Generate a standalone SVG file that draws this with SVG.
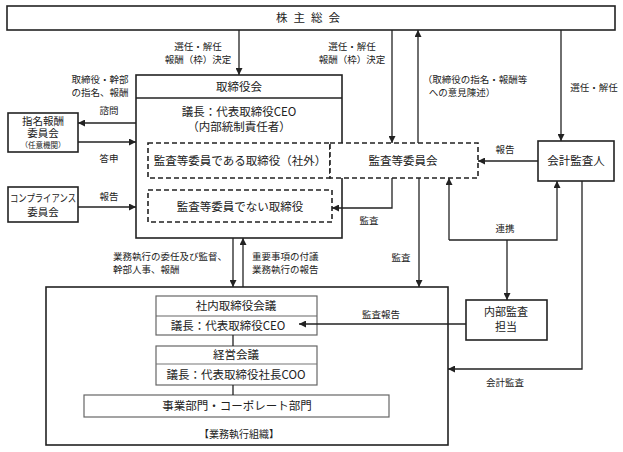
<svg xmlns="http://www.w3.org/2000/svg" width="623" height="452" viewBox="0 0 623 452">
<style>
text{font-family:"Noto Sans CJK JP","Noto Sans",sans-serif;fill:#222;text-anchor:middle}
text.st{text-anchor:start}
.t{font-size:11.5px}
.s{font-size:9.5px}
.xs{font-size:7.5px}
.box{fill:#fff;stroke:#222;stroke-width:1.6}
.dash{fill:#fff;stroke:#222;stroke-width:1.6;stroke-dasharray:5,3}
.gbox{fill:#fff;stroke:#666;stroke-width:1.2}
.con{fill:none;stroke:#222;stroke-width:1.3}
</style>
<defs>
<marker id="ah" viewBox="0 0 10 10" refX="10" refY="5" markerWidth="7" markerHeight="7" markerUnits="userSpaceOnUse" orient="auto">
<path d="M0,0 L10,5 L0,10 z" fill="#222"/>
</marker>
</defs>

<g id="shareholders">
<rect class="box" x="7" y="6" width="608" height="24"/>
<text class="t" x="311" y="22" letter-spacing="6">株主総会</text>
</g>

<g id="board">
<rect class="box" x="136" y="75" width="206" height="163"/>
<line x1="136" y1="98" x2="342" y2="98" stroke="#222" stroke-width="1.3"/>
<text class="t" x="239" y="91">取締役会</text>
<text class="t" x="239" y="116">議長：代表取締役CEO</text>
<text class="t" x="239" y="131">（内部統制責任者）</text>
</g>

<g id="outside-directors">
<rect class="dash" x="148" y="143" width="182" height="35"/>
<text class="t" x="240" y="165">監査等委員である取締役（社外）</text>
</g>

<g id="audit-committee">
<rect class="dash" x="330" y="143" width="148" height="35"/>
<text class="t" x="403" y="165">監査等委員会</text>
</g>

<g id="non-audit-directors">
<rect class="dash" x="148" y="190" width="184" height="32"/>
<text class="t" x="240" y="211">監査等委員でない取締役</text>
</g>

<g id="nomination">
<rect class="box" x="8" y="113" width="70" height="39"/>
<text x="43" y="125" font-size="10.5">指名報酬</text>
<text x="43" y="137" font-size="10.5">委員会</text>
<text class="xs" x="43" y="148">（任意機関）</text>
</g>

<g id="compliance">
<rect class="box" x="8" y="187" width="70" height="35"/>
<text x="43" y="202" font-size="10.5" textLength="66" lengthAdjust="spacingAndGlyphs">コンプライアンス</text>
<text x="43" y="216" font-size="10.5">委員会</text>
</g>

<g id="auditor">
<rect class="box" x="538" y="141" width="76" height="40" stroke-width="2"/>
<text class="t" x="576" y="165">会計監査人</text>
</g>

<g id="internal-audit">
<rect class="box" x="466" y="300" width="81" height="40" stroke="#444"/>
<text x="506" y="316" font-size="11">内部監査</text>
<text x="506" y="331" font-size="11">担当</text>
</g>

<g id="executive">
<rect class="box" x="46" y="287" width="402" height="158" stroke-width="2"/>
<text x="239" y="438" font-size="10">【業務執行組織】</text>
</g>

<g id="internal-directors-meeting">
<rect class="gbox" x="156" y="296" width="161" height="39"/>
<line x1="156" y1="316" x2="317" y2="316" stroke="#666" stroke-width="1.2"/>
<text class="t" x="236" y="310">社内取締役会議</text>
<text class="t" x="228" y="330">議長：代表取締役CEO</text>
</g>

<g id="management-meeting">
<rect class="gbox" x="156" y="346" width="161" height="39" stroke="#777"/>
<line x1="156" y1="364" x2="317" y2="364" stroke="#777" stroke-width="1.2"/>
<text class="t" x="236" y="359">経営会議</text>
<text class="t" x="236" y="379">議長：代表取締役社長COO</text>
</g>

<g id="divisions">
<rect class="gbox" x="84" y="395" width="305" height="22" stroke="#999"/>
<text class="t" x="237" y="410">事業部門・コーポレート部門</text>
</g>

<g id="connectors">
<path class="con" d="M239,30 V75" marker-end="url(#ah)"/>
<path class="con" d="M392,30 V143" marker-end="url(#ah)"/>
<path class="con" d="M418,143 V30" marker-end="url(#ah)"/>
<path class="con" d="M561,30 V141" marker-end="url(#ah)"/>
<path class="con" d="M392,178 V208 H332" marker-end="url(#ah)"/>
<path class="con" d="M136,123 H78" marker-end="url(#ah)"/>
<path class="con" d="M78,142 H136" marker-end="url(#ah)"/>
<path class="con" d="M78,207 H136" marker-end="url(#ah)"/>
<path class="con" d="M538,161 H478" marker-end="url(#ah)"/>
<path class="con" d="M449,240 V178" marker-end="url(#ah)"/>
<path class="con" d="M449,240 H557 V181" marker-end="url(#ah)"/>
<path class="con" d="M507,240 V300" marker-end="url(#ah)"/>
<path class="con" d="M466,324 H299" marker-end="url(#ah)"/>
<path class="con" d="M582,181 V369 H448" marker-end="url(#ah)"/>
<path class="con" d="M419,178 V287" marker-end="url(#ah)"/>
<path class="con" d="M233,238 V287" marker-end="url(#ah)"/>
<path class="con" d="M243,287 V238" marker-end="url(#ah)"/>
<path class="con" d="M233,335 V346 M233,385 V395" stroke-width="1.6"/>
</g>

<g id="labels">
<text class="s" x="198" y="50">選任・解任</text>
<text class="s" x="198" y="63">報酬（枠）決定</text>
<text class="s" x="352" y="50">選任・解任</text>
<text class="s" x="352" y="63">報酬（枠）決定</text>
<text class="s" x="100" y="83">取締役・幹部</text>
<text class="s" x="100" y="96">の指名、報酬</text>
<text class="s" x="109" y="114">諮問</text>
<text class="s" x="109" y="162">答申</text>
<text class="s" x="109" y="200">報告</text>
<text class="s" x="475" y="83">（取締役の指名・報酬等</text>
<text class="s" x="462" y="96">への意見陳述）</text>
<text class="s" x="594" y="91">選任・解任</text>
<text class="s" x="505" y="153">報告</text>
<text class="s" x="369" y="224">監査</text>
<text class="s" x="505" y="232">連携</text>
<text class="s" x="401" y="261">監査</text>
<text class="s" x="381" y="318">監査報告</text>
<text class="s" x="505" y="386">会計監査</text>
<text class="s st" x="113" y="260">業務執行の委任及び監督、</text>
<text class="s st" x="113" y="273">幹部人事、報酬</text>
<text class="s st" x="252" y="260">重要事項の付議</text>
<text class="s st" x="252" y="273">業務執行の報告</text>
</g>
</svg>
